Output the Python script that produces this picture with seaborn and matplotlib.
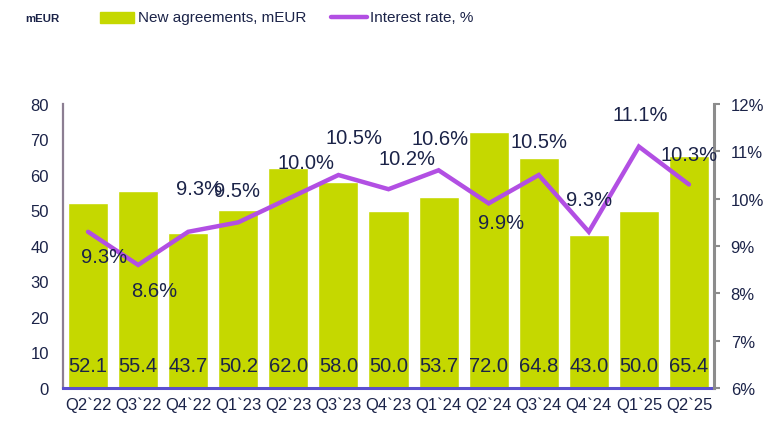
import numpy as np
import pandas as pd
import matplotlib
matplotlib.use("Agg")
import matplotlib.pyplot as plt
from matplotlib.patches import Rectangle
from matplotlib.lines import Line2D
import seaborn as sns

# Quarterly new agreements and average interest rate
quarters = ["Q2`22", "Q3`22", "Q4`22", "Q1`23", "Q2`23", "Q3`23", "Q4`23",
            "Q1`24", "Q2`24", "Q3`24", "Q4`24", "Q1`25", "Q2`25"]
agreements = [52.1, 55.4, 43.7, 50.2, 62.0, 58.0, 50.0, 53.7, 72.0, 64.8, 43.0, 50.0, 65.4]
rates = [9.3, 8.6, 9.3, 9.5, 10.0, 10.5, 10.2, 10.6, 9.9, 10.5, 9.3, 11.1, 10.3]

# label placement for the rate annotations (pixel offsets from each point)
rate_label_offsets = [(16, -25), (16, -26), (11, 43), (-1, 32), (18, 36), (16, 38),
                      (18, 31), (1, 32), (12, -19), (0, 33), (0, 32), (1, 32), (0, 30)]

BAR = "#C5D800"
LINE = "#B24FE3"
TEXT = "#1B2348"

sns.set_theme(style="white")
plt.rcParams["font.family"] = ["Liberation Sans", "DejaVu Sans"]

fig = plt.figure(figsize=(7.83, 4.27), dpi=100)
W, H = 783, 427
ax = fig.add_axes([63 / W, (H - 389) / H, (714 - 63) / W, (389 - 105) / H])

df = pd.DataFrame({"quarter": quarters, "agreements": agreements, "rate": rates})
sns.barplot(data=df, x="quarter", y="agreements", color=BAR, saturation=1,
            width=0.8, ax=ax, zorder=2)
ax.set_xlim(-0.5, len(quarters) - 0.5)
ax.set_ylim(0, 80)
ax.set_yticks(np.arange(0, 81, 10))
ax.set_xlabel("")
ax.set_ylabel("")
ax.tick_params(axis="both", length=0, colors=TEXT, labelsize=12)
ax.tick_params(axis="y", pad=10)
ax.tick_params(axis="x", pad=6)
for lab in ax.get_xticklabels() + ax.get_yticklabels():
    lab.set_color(TEXT)

for s in ["top", "right"]:
    ax.spines[s].set_visible(False)
ax.spines["left"].set_color("#8C7E92")
ax.spines["left"].set_linewidth(1.6)
ax.spines["bottom"].set_color("#5B4FCF")
ax.spines["bottom"].set_linewidth(2.2)
ax.spines["bottom"].set_zorder(5)

for i, v in enumerate(df["agreements"]):
    ax.annotate(f"{v:.1f}", (i, 0), xytext=(0, 22), textcoords="offset pixels",
                ha="center", va="center", fontsize=14.5, color=TEXT, zorder=4)

ax2 = ax.twinx()
sns.lineplot(x=np.arange(len(quarters)), y=df["rate"], color=LINE, linewidth=3.2,
             ax=ax2, solid_capstyle="round", solid_joinstyle="miter", zorder=3)
ax2.set_ylim(6, 12)
ax2.set_yticks(np.arange(6, 13, 1))
ax2.set_yticklabels([f"{t}%" for t in range(6, 13)])
ax2.set_ylabel("")
ax2.tick_params(axis="y", direction="out", length=4, width=1.5, color="#8C8C8C",
                labelcolor=TEXT, labelsize=12, pad=8)
for s in ["top", "left", "bottom"]:
    ax2.spines[s].set_visible(False)
ax2.spines["right"].set_color("#8C8C8C")
ax2.spines["right"].set_linewidth(2.2)

for i, r in enumerate(df["rate"]):
    dx, dy = rate_label_offsets[i]
    ax2.annotate(f"{r:.1f}%", (i, r), xytext=(dx, dy), textcoords="offset pixels",
                 ha="center", va="center", fontsize=14.5, color=TEXT, zorder=6)

# header: unit and legend
fig.text(25 / W, 1 - 19 / H, "mEUR", fontsize=8.2, fontweight="bold", color=TEXT,
         va="center", ha="left")
fig.add_artist(Rectangle((100 / W, 1 - 24 / H), 34 / W, 11 / H,
                         transform=fig.transFigure, color=BAR))
fig.text(138 / W, 1 - 18 / H, "New agreements, mEUR", fontsize=11, color=TEXT,
         va="center", ha="left")
fig.add_artist(Line2D([331 / W, 367 / W], [1 - 18 / H, 1 - 18 / H],
                      transform=fig.transFigure, color=LINE, linewidth=3.2,
                      solid_capstyle="round"))
fig.text(370 / W, 1 - 18 / H, "Interest rate, %", fontsize=11, color=TEXT,
         va="center", ha="left")

fig.savefig("out.png", dpi=100)
